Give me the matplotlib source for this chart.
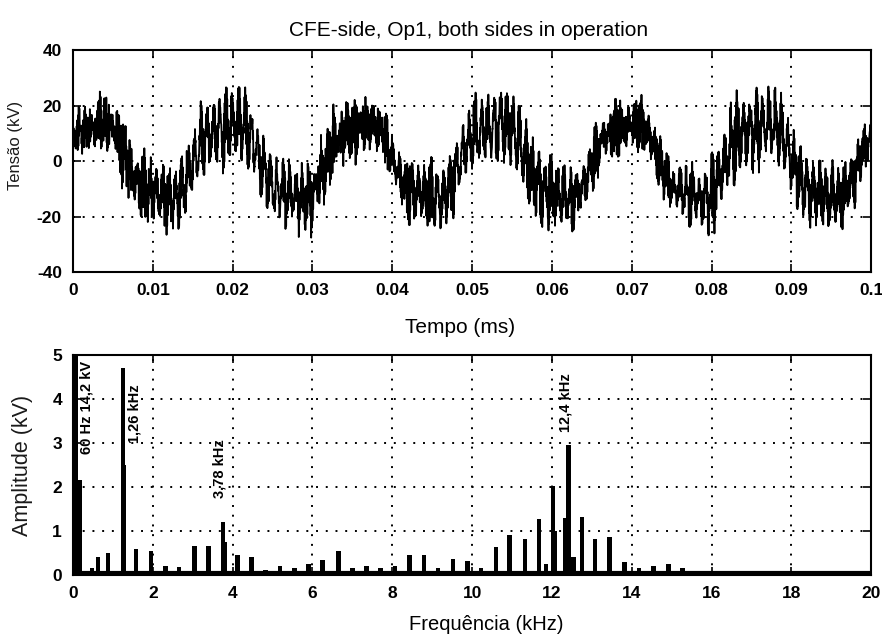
import numpy as np
import matplotlib
matplotlib.use("Agg")
import matplotlib.pyplot as plt

plt.rcParams['font.family'] = ['Liberation Sans', 'DejaVu Sans']
plt.rcParams['axes.unicode_minus'] = False

# spectrum (kHz, kV)
freqs_khz = [0.06, 0.18, 0.40, 0.48, 0.62, 0.87, 1.25, 1.28, 1.58, 1.95,
             2.32, 2.66, 3.04, 3.39, 3.76, 3.80, 4.12, 4.47, 4.82, 5.18,
             5.55, 5.90, 6.25, 6.65, 7.00, 7.35, 7.70, 8.06, 8.43, 8.80,
             9.15, 9.52, 9.88, 10.22, 10.60, 10.94, 11.32, 11.67, 11.85, 12.02,
             12.06, 12.33, 12.41, 12.54, 12.75, 13.08, 13.44, 13.82, 14.18, 14.54,
             14.92, 15.27, 15.60, 16.00, 16.35, 16.70, 17.05, 17.40, 17.95, 18.50]
amps_kv = [14.2, 2.17, 0.10, 0.15, 0.40, 0.50, 4.70, 2.50, 0.60, 0.55,
           0.20, 0.18, 0.65, 0.65, 1.20, 0.75, 0.45, 0.40, 0.12, 0.20,
           0.15, 0.25, 0.35, 0.55, 0.15, 0.20, 0.15, 0.20, 0.45, 0.45,
           0.15, 0.37, 0.33, 0.15, 0.64, 0.91, 0.83, 1.28, 0.25, 2.02,
           1.00, 1.30, 2.95, 0.40, 1.31, 0.82, 0.87, 0.30, 0.15, 0.20,
           0.25, 0.15, 0.08, 0.10, 0.05, 0.07, 0.07, 0.05, 0.10, 0.05]
# phases are not visible in the figure; fundamental set so crests fall at ~2.8 ms
phases_deg = [-60, 35, 210, 120, 300, 75, 10, 160, 250, 95,
              330, 45, 190, 280, 130, 20, 240, 170, 60, 310,
              100, 220, 15, 140, 265, 80, 200, 325, 55, 175,
              290, 110, 5, 235, 150, 70, 345, 185, 40, 260,
              125, 300, 90, 215, 30, 160, 275, 65, 190, 340,
              115, 245, 20, 170, 305, 85, 225, 135, 10, 280]
noise_floor_kv = 0.04

peak_labels = ['60 Hz 14,2 kV', '1,26 kHz', '3,78 kHz', '12,4 kHz']
label_pos = [(0.34, 2.75), (1.55, 3.0), (3.68, 1.75), (12.35, 3.25)]

t_span = (0.0, 0.1)
f_span = (0, 20)

# time trace rebuilt from the read spectrum
t = np.linspace(t_span[0], t_span[1], 12001)
v = np.zeros_like(t)
for f, a, p in zip(freqs_khz, amps_kv, phases_deg):
    v += a * np.cos(2 * np.pi * f * 1000 * t + np.deg2rad(p))

fig = plt.figure(figsize=(8.82, 6.37), dpi=100)
ax1 = fig.add_axes([0.0828, 0.573, 0.905, 0.3485])
ax2 = fig.add_axes([0.0828, 0.0973, 0.905, 0.345])

grid_style = dict(color='black', linestyle=(0, (1, 4)), linewidth=1.4)

for ax in (ax1, ax2):
    ax.tick_params(direction='in', length=6, width=1.2, top=True, right=True,
                   labelsize=12.5, pad=8)
    for lab in ax.get_xticklabels() + ax.get_yticklabels():
        lab.set_fontweight('bold')
    for s in ax.spines.values():
        s.set_linewidth(1.5)
    ax.grid(True, **grid_style)

# upper panel
ax1.plot(t, v, color='black', linewidth=1.3)
ax1.set_xlim(*t_span)
ax1.set_ylim(-40, 40)
ax1.set_xticks(np.arange(0, 0.1001, 0.01))
ax1.set_xticklabels(['0', '0.01', '0.02', '0.03', '0.04', '0.05', '0.06',
                     '0.07', '0.08', '0.09', '0.1'], fontweight='bold')
ax1.set_yticks([-40, -20, 0, 20, 40])
ax1.set_yticklabels(['-40', '-20', '0', '20', '40'], fontweight='bold')
ax1.set_xlabel('Tempo (ms)', fontsize=15)
ax1.xaxis.set_label_coords(0.485, -0.205)
ax1.set_ylabel('Tensão (kV)', fontsize=12, color='#1a1a1a')
ax1.yaxis.set_label_coords(-0.063, 0.57)
ax1.text(0.495, 1.09, 'CFE-side, Op1, both sides in operation',
         transform=ax1.transAxes, ha='center', va='center', fontsize=15)

# lower panel
ax2.axhline(noise_floor_kv, color='black', linewidth=3)
ax2.bar(freqs_khz, amps_kv, width=0.11, color='black')
ax2.set_xlim(*f_span)
ax2.set_ylim(0, 5)
ax2.set_xticks(np.arange(0, 21, 2))
ax2.set_xticklabels([str(k) for k in range(0, 21, 2)], fontweight='bold')
ax2.set_yticks(range(6))
ax2.set_yticklabels([str(k) for k in range(6)], fontweight='bold')
ax2.set_xlabel('Frequência (kHz)', fontsize=14.5)
ax2.xaxis.set_label_coords(0.5175, -0.18)
ax2.set_ylabel('Amplitude (kV)', fontsize=15.5, color='#1a1a1a')
ax2.yaxis.set_label_coords(-0.05, 0.5)
for txt, (x, y) in zip(peak_labels, label_pos):
    ax2.text(x, y, txt, rotation=90, ha='center', va='bottom',
             fontsize=10.5, fontweight='bold')

fig.savefig('out.png', dpi=100)
